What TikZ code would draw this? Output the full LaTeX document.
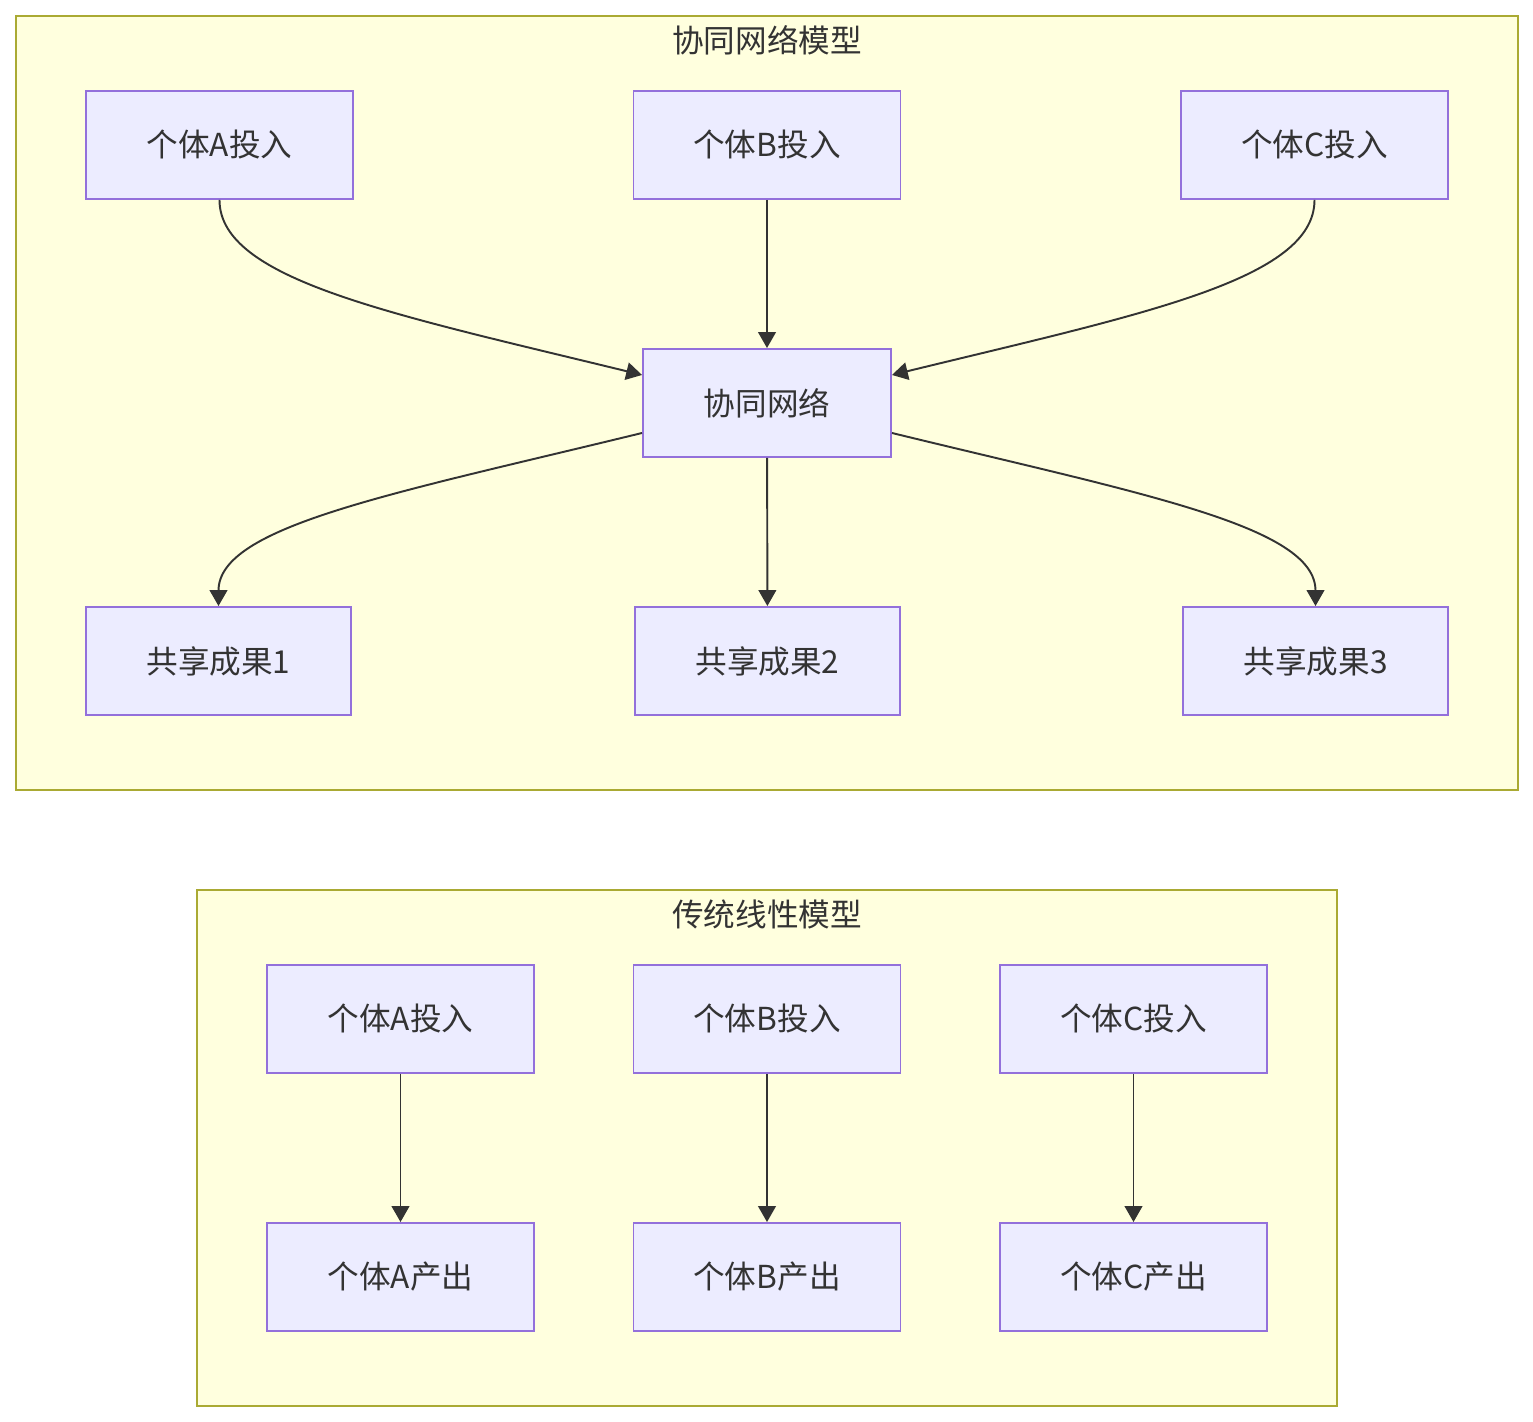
\documentclass[tikz,border=0pt]{standalone}
\usepackage{fontspec}
\setmainfont{Noto Sans CJK SC}
\usepackage{tikz}
\usetikzlibrary{arrows.meta,positioning}
\definecolor{boxfill}{HTML}{ECECFF}
\definecolor{boxline}{HTML}{9370DB}
\definecolor{groupfill}{HTML}{FFFFDE}
\definecolor{groupline}{HTML}{AAAA33}
\definecolor{textmain}{HTML}{333333}
\definecolor{edgeline}{HTML}{333333}

\tikzset{
  stepbox/.style={draw=boxline, fill=boxfill, line width=1.1pt, minimum width=5.34cm, minimum height=2.16cm, inner sep=0pt, font=\fontsize{18}{21}\selectfont\color{textmain}},
  groupbox/.style={draw=groupline, fill=groupfill, line width=1.1pt},
  grouptitle/.style={font=\fontsize{18}{21}\selectfont\color{textmain}},
  flow/.style={draw=edgeline, line width=1.1pt, -{Triangle[length=9pt,width=10pt]}}
}

\begin{document}
\begin{tikzpicture}

\useasboundingbox (0,0) rectangle (30.66,28.44);

% Cooperative network model
\draw[groupbox] (0.32,12.64) rectangle (30.36,28.12);
\node[grouptitle] (nettitle) at (15.34,27.64) {协同网络模型};

\node[stepbox] (netinA) at (4.39,25.54) {个体A投入};
\node[stepbox] (netinB) at (15.34,25.54) {个体B投入};
\node[stepbox] (netinC) at (26.29,25.54) {个体C投入};

\node[stepbox, minimum width=4.96cm] (net) at (15.34,20.38) {协同网络};

\node[stepbox, minimum width=5.3cm] (share1) at (4.37,15.22) {共享成果1};
\node[stepbox, minimum width=5.3cm] (share2) at (15.35,15.22) {共享成果2};
\node[stepbox, minimum width=5.3cm] (share3) at (26.31,15.22) {共享成果3};

\draw[flow] (netinA.south) .. controls +(0,-1.6) and +(-5,1.22) .. ([yshift=0.56cm]net.west);
\draw[flow] (netinB) -- (net);
\draw[flow] (netinC.south) .. controls +(0,-1.6) and +(5,1.22) .. ([yshift=0.56cm]net.east);

\draw[flow] ([yshift=-0.6cm]net.west) .. controls +(-5,-1.22) and +(0,1.6) .. (share1.north);
\draw[flow] (net) -- (share2);
\draw[flow] ([yshift=-0.6cm]net.east) .. controls +(5,-1.22) and +(0,1.6) .. (share3.north);

% Traditional linear model
\draw[groupbox] (3.94,0.32) rectangle (26.74,10.64);
\node[grouptitle] (lintitle) at (15.34,10.16) {传统线性模型};

\node[stepbox] (lininA) at (8.01,8.06) {个体A投入};
\node[stepbox] (lininB) at (15.34,8.06) {个体B投入};
\node[stepbox] (lininC) at (22.67,8.06) {个体C投入};

\node[stepbox] (linoutA) at (8.01,2.90) {个体A产出};
\node[stepbox] (linoutB) at (15.34,2.90) {个体B产出};
\node[stepbox] (linoutC) at (22.67,2.90) {个体C产出};

\draw[flow] (lininA) -- (linoutA);
\draw[flow] (lininB) -- (linoutB);
\draw[flow] (lininC) -- (linoutC);

\end{tikzpicture}
\end{document}
